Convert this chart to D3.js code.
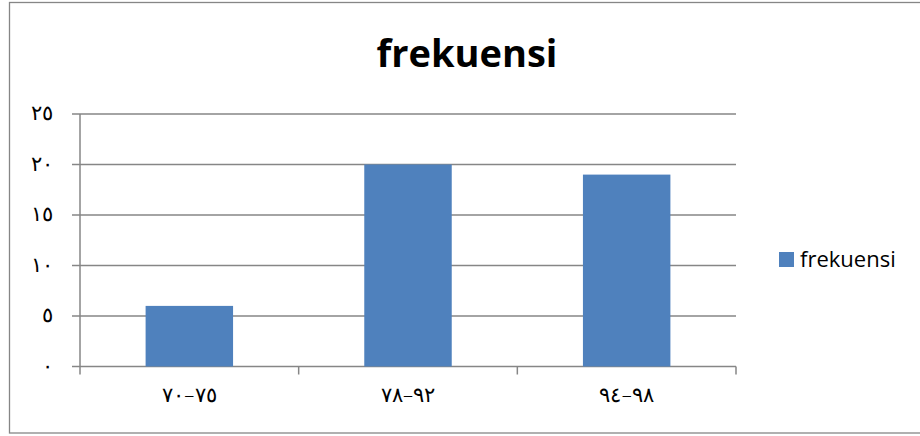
<!DOCTYPE html>
<html>
<head>
<meta charset="utf-8">
<script src="https://cdn.jsdelivr.net/npm/d3@7/dist/d3.min.js"></script>
<style>
  html, body { margin: 0; padding: 0; background: #fff; }
  svg { display: block; }
</style>
</head>
<body>
<svg id="chart" width="920" height="436"></svg>
<script>
const title = "frekuensi";
const seriesName = "frekuensi";
const categories = ["٧٠\u200E–\u200E٧٥", "٧٨\u200E–\u200E٩٢", "٩٤\u200E–\u200E٩٨"];
const values = [6, 20, 19];
const yTicks = [0, 5, 10, 15, 20, 25];
const yTickLabels = ["٠", "٥", "١٠", "١٥", "٢٠", "٢٥"];

const svg = d3.select("#chart");
const barColor = "#4F81BD";
const lineColor = "#868686";

// outer border
svg.append("rect")
  .attr("x", 9.5).attr("y", 2.5)
  .attr("width", 915).attr("height", 430.5)
  .attr("fill", "#fff").attr("stroke", lineColor).attr("stroke-width", 1.3);

const plot = { left: 80, right: 736, top: 114, bottom: 366.5 };

const x = d3.scaleBand().domain(categories).range([plot.left, plot.right]).paddingInner(0).paddingOuter(0);
const y = d3.scaleLinear().domain([0, 25]).range([plot.bottom, plot.top]);

// gridlines with tick marks
svg.append("g").selectAll("line.grid").data(yTicks).join("line")
  .attr("class", "grid")
  .attr("x1", plot.left - 8).attr("x2", plot.right)
  .attr("y1", d => y(d)).attr("y2", d => y(d))
  .attr("stroke", lineColor).attr("stroke-width", 1.5);

// bars
const barW = x.bandwidth() * 0.4;
svg.selectAll("rect.bar").data(values).join("rect")
  .attr("class", "bar")
  .attr("x", (d, i) => x(categories[i]) + (x.bandwidth() - barW) / 2)
  .attr("width", barW)
  .attr("y", d => y(d))
  .attr("height", d => y(0) - y(d))
  .attr("fill", barColor);

// y axis line
svg.append("line")
  .attr("x1", plot.left).attr("x2", plot.left)
  .attr("y1", plot.top).attr("y2", plot.bottom + 8)
  .attr("stroke", lineColor).attr("stroke-width", 1.5);

// x axis ticks at band boundaries
const bounds = categories.map(c => x(c)).concat([plot.right]);
svg.selectAll("line.xt").data(bounds.slice(1)).join("line")
  .attr("class", "xt")
  .attr("x1", d => d).attr("x2", d => d)
  .attr("y1", plot.bottom).attr("y2", plot.bottom + 8)
  .attr("stroke", lineColor).attr("stroke-width", 1.5);

// y tick labels
svg.selectAll("text.yl").data(yTicks).join("text")
  .attr("class", "yl")
  .attr("x", 53).attr("y", d => y(d))
  .attr("dy", "0.3em")
  .attr("text-anchor", "end")
  .attr("font-family", "DejaVu Sans")
  .attr("font-weight", 300)
  .attr("font-size", 21)
  .attr("fill", "#000")
  .text((d, i) => yTickLabels[i]);

// x labels
svg.selectAll("text.xl").data(categories).join("text")
  .attr("class", "xl")
  .attr("x", d => x(d) + x.bandwidth() / 2)
  .attr("y", 402)
  .attr("text-anchor", "middle")
  .attr("font-family", "DejaVu Sans")
  .attr("font-weight", 300)
  .attr("font-size", 21)
  .attr("fill", "#000")
  .text(d => d);

// title
svg.append("text")
  .attr("x", 467).attr("y", 67)
  .attr("text-anchor", "middle")
  .attr("font-family", "Open Sans")
  .attr("font-weight", "bold")
  .attr("font-size", 38)
  .attr("fill", "#000")
  .text(title);

// legend
svg.append("rect")
  .attr("x", 779).attr("y", 252).attr("width", 15).attr("height", 15)
  .attr("fill", barColor);
svg.append("text")
  .attr("x", 800).attr("y", 267)
  .attr("font-family", "Open Sans")
  .attr("font-size", 22)
  .attr("fill", "#000")
  .text(seriesName);
</script>
</body>
</html>
